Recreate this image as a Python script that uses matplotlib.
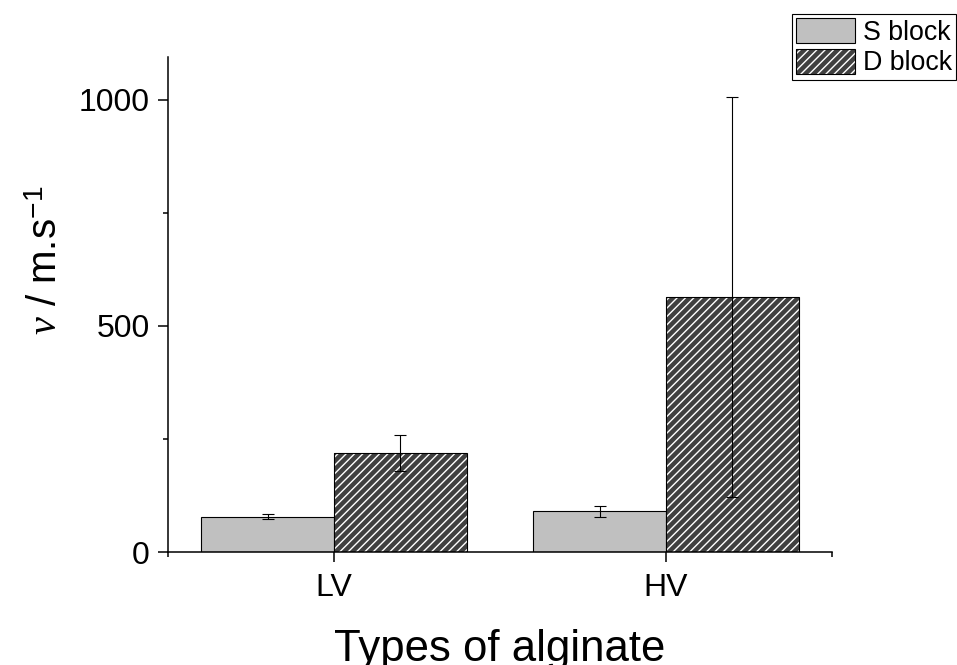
import matplotlib
matplotlib.use("Agg")
import matplotlib.pyplot as plt
from matplotlib.patches import Patch
import numpy as np

plt.rcParams['font.family'] = ['Liberation Sans', 'DejaVu Sans']
plt.rcParams['mathtext.fontset'] = 'custom'
plt.rcParams['mathtext.rm'] = 'Liberation Sans'
plt.rcParams['mathtext.it'] = 'Liberation Serif:italic'
plt.rcParams['hatch.linewidth'] = 1.0

categories = ['LV', 'HV']
series_names = ['S block', 'D block']
s_values = [78, 90]
s_errors = [5, 12]
d_values = [219, 564]
d_errors = [40, 442]
y_ticks = [0, 500, 1000]

s_color = '#c0c0c0'
d_color = '#404040'

fig = plt.figure(figsize=(9.57, 6.65), dpi=100)
ax = fig.add_axes([168/957, 1-552/665, (832-168)/957, (552-57)/665])

x = np.arange(1, len(categories) + 1)
w = 0.4

ax.bar(x - w/2, s_values, width=w, color=s_color, edgecolor='black', linewidth=0.8, zorder=2)
ax.bar(x + w/2, d_values, width=w, color=d_color, edgecolor='white', hatch='////', linewidth=0, zorder=2)
ax.bar(x + w/2, d_values, width=w, fill=False, edgecolor='black', linewidth=0.8, zorder=3)

ax.errorbar(x - w/2, s_values, yerr=s_errors, fmt='none', ecolor='black', elinewidth=0.8, capsize=4, capthick=0.8, zorder=4)
ax.errorbar(x + w/2, d_values, yerr=d_errors, fmt='none', ecolor='black', elinewidth=0.8, capsize=4, capthick=0.8, zorder=4)

ax.set_xlim(0.5, 2.5)
ax.set_ylim(0, 1095)
ax.set_xticks(x)
ax.set_xticklabels(categories)
ax.set_xticks([0.5, 2.5], minor=True)
ax.set_yticks(y_ticks)
ax.set_yticks([250, 750], minor=True)

for s in ['top', 'right']:
    ax.spines[s].set_visible(False)
for s in ['left', 'bottom']:
    ax.spines[s].set_linewidth(1.1)

ax.tick_params(axis='both', which='major', direction='out', length=7, width=1.1, labelsize=23)
ax.tick_params(axis='both', which='minor', direction='out', length=3.6, width=1.1)
ax.tick_params(axis='x', which='major', pad=8)
ax.tick_params(axis='y', which='major', pad=6)

ax.set_xlabel('Types of alginate', fontsize=31.5)
ax.xaxis.set_label_coords(0.5, -0.155)
ax.set_ylabel(r'$\nu$ / m.s$^{\mathrm{-1}}$', fontsize=29)
ax.yaxis.set_label_coords(-0.155, 0.59)

h1 = Patch(facecolor=s_color, edgecolor='black', linewidth=0.8)
h2a = Patch(facecolor=d_color, edgecolor='white', hatch='////', linewidth=0)
h2b = Patch(fill=False, edgecolor='black', linewidth=0.8)
leg = fig.legend([h1, (h2a, h2b)], series_names, loc='upper left',
                 bbox_to_anchor=(792/957, 1-14/665), fontsize=19.3,
                 frameon=True, fancybox=False, shadow=False, framealpha=1,
                 edgecolor='black', borderpad=0.15, labelspacing=0.1,
                 handlelength=2.2, handleheight=1.08, handletextpad=0.3,
                 borderaxespad=0)
leg.get_frame().set_linewidth(0.8)

fig.savefig('out.png', dpi=100)
